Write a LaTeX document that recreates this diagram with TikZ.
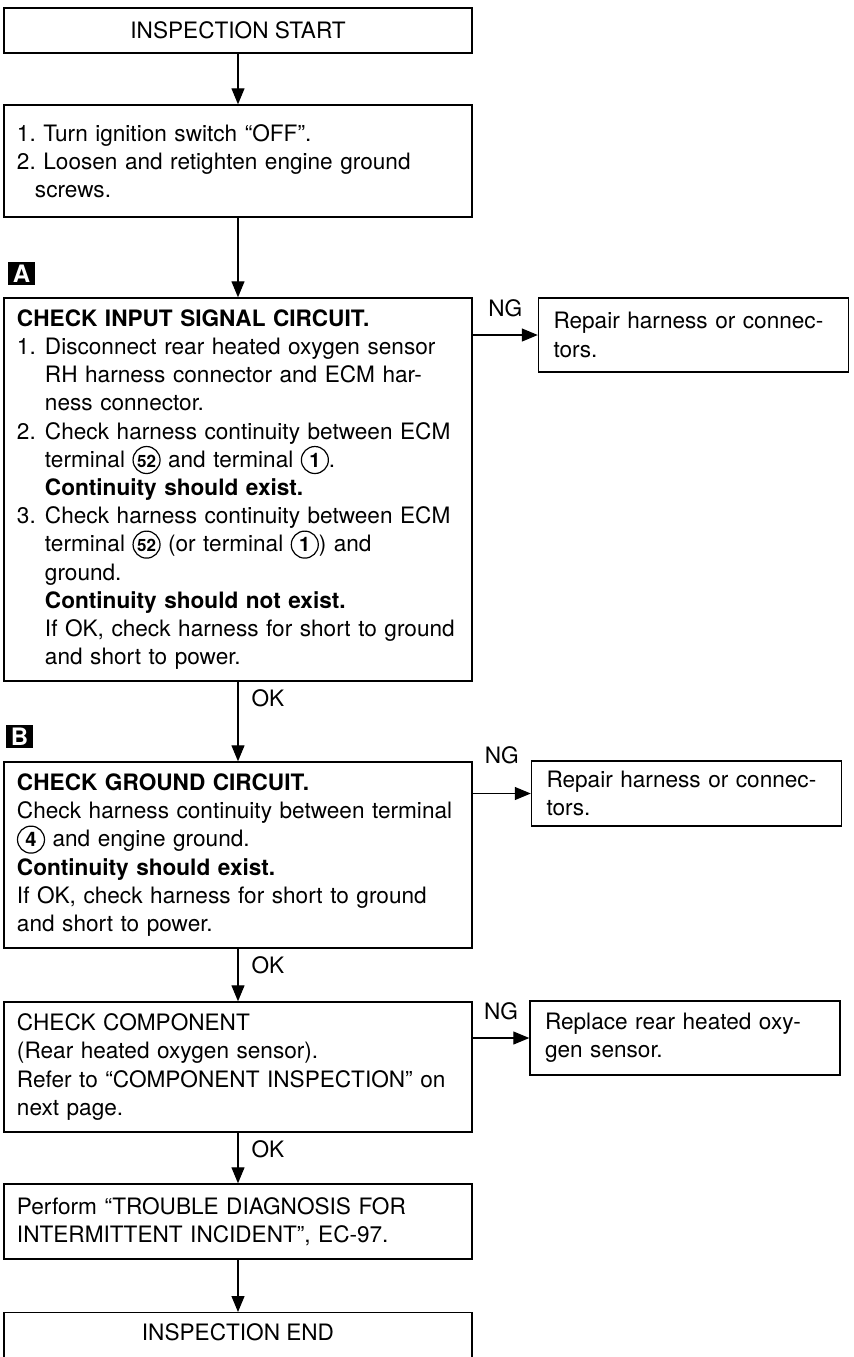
\documentclass[tikz,border=0pt]{standalone}
\usepackage{fontspec}
\setmainfont{TeX Gyre Heros}
\usepackage{pict2e}
\usetikzlibrary{arrows.meta}
\frenchspacing
\newcommand{\dfont}{\fontsize{11.3}{14.1}\selectfont}
\newcommand{\itm}[1]{\makebox[14pt][l]{#1}}
\newcommand{\cnum}[2][10]{\leavevmode\hbox to 14pt{\hss\setlength{\unitlength}{1pt}\begin{picture}(0,0)\linethickness{0.6pt}\put(0,3.6){\circle{13.5}}\end{picture}{\fontsize{#1}{#1}\selectfont\bfseries\makebox[0pt]{#2}}\hss}}

\begin{document}
\begin{tikzpicture}[x=0.5pt,y=-0.5pt,
  box/.style={draw,line width=0.7pt,inner xsep=6.5pt,inner ysep=0pt,text width=221pt,align=left,font=\dfont},
  endbox/.style={draw,line width=0.7pt,minimum width=234pt,inner ysep=0pt,font=\dfont},
  rbox/.style={draw,line width=0.7pt,inner xsep=7.5pt,inner ysep=0pt,text width=140pt,align=left,font=\dfont},
  tag/.style={fill=black,text=white,inner sep=0pt,minimum width=13.5pt,minimum height=11.5pt,font=\fontsize{12}{12}\selectfont\bfseries},
  flow/.style={line width=0.6pt,-{Triangle[length=8pt,width=6.5pt]}},
  nglab/.style={midway,above=9pt,inner sep=0pt,font=\dfont},
  oklab/.style={pos=0,anchor=north west,inner sep=0pt,xshift=6.5pt,yshift=-3.5pt,font=\dfont}]
\useasboundingbox (0,0) rectangle (853,1357);
\node[endbox,minimum height=22.5pt] (start) at (238,30.5) {INSPECTION START};
\node[box,minimum height=56pt] (prep) at (238,161) {1. Turn ignition switch “OFF”.\\
2. Loosen and retighten engine ground\\
\hspace*{9pt}screws.};
\node[tag] (tagA) at (21.5,273.5) {A};
\node[box,minimum height=191.5pt] (chkin) at (238,489.5) {\textbf{CHECK INPUT SIGNAL CIRCUIT.}\\
\itm{1.}Disconnect rear heated oxygen sensor\\
\itm{}RH harness connector and ECM har-\\
\itm{}ness connector.\\
\itm{2.}Check harness continuity between ECM\\
\itm{}terminal \cnum[8.5]{52} and terminal \cnum{1}.\\
\itm{}\textbf{Continuity should exist.}\\
\itm{3.}Check harness continuity between ECM\\
\itm{}terminal \cnum[8.5]{52} (or terminal \cnum{1}) and\\
\itm{}ground.\\
\itm{}\textbf{Continuity should not exist.}\\
\itm{}If OK, check harness for short to ground\\
\itm{}and short to power.};
\node[rbox,minimum height=37pt] (fixin) at (693.5,335) {Repair harness or connec-\\tors.};
\node[tag] (tagB) at (19.5,736.5) {B};
\node[box,minimum height=93pt] (chkgnd) at (238,855) {\textbf{CHECK GROUND CIRCUIT.}\\
Check harness continuity between terminal\\
\cnum{4} and engine ground.\\
\textbf{Continuity should exist.}\\
If OK, check harness for short to ground\\
and short to power.};
\node[rbox,minimum height=32.5pt] (fixgnd) at (686.5,793.5) {Repair harness or connec-\\tors.};
\node[box,minimum height=65pt] (chkcomp) at (238,1067) {CHECK COMPONENT\\
(Rear heated oxygen sensor).\\
Refer to “COMPONENT INSPECTION” on\\
next page.};
\node[rbox,minimum height=37pt] (replace) at (685,1038) {Replace rear heated oxy-\\gen sensor.};
\node[box,minimum height=37.5pt] (perform) at (238,1221.5) {Perform “TROUBLE DIAGNOSIS FOR\\
INTERMITTENT INCIDENT”, EC-97.};
\node[endbox,anchor=north,text height=8pt,text depth=50pt,inner ysep=6pt] (finish) at (238,1312) {INSPECTION END};
\draw[flow] (start) -- (prep);
\draw[flow] (prep) -- (chkin);
\draw[flow] (chkin) -- node[oklab] {OK} (chkgnd);
\draw[flow] (chkgnd) -- node[oklab] {OK} (chkcomp);
\draw[flow] (chkcomp) -- node[oklab] {OK} (perform);
\draw[flow] (perform) -- (finish);
\draw[flow] (chkin.east |- fixin.west) -- node[nglab] {NG} (fixin.west);
\draw[flow] (chkgnd.east |- fixgnd.west) -- node[nglab,yshift=5.5pt] {NG} (fixgnd.west);
\draw[flow] (chkcomp.east |- replace.west) -- node[nglab] {NG} (replace.west);
\end{tikzpicture}
\end{document}
